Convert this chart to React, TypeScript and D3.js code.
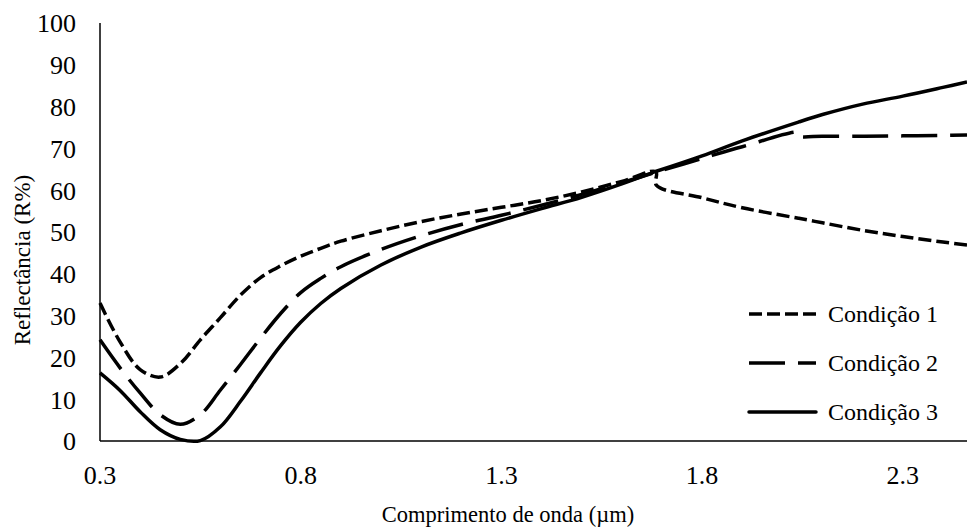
import React from 'react'
import * as d3 from 'd3'

// wavelength (µm) shared by all three curves; close pairs of points mark the jumps
const wavelength = [0.3, 0.35, 0.4, 0.45, 0.5, 0.55, 0.6, 0.65, 0.7, 0.75, 0.8, 0.85, 0.9, 1.0, 1.1, 1.2, 1.3, 1.4, 1.5, 1.6, 1.685, 1.686, 1.8, 1.9, 2.04, 2.041, 2.1, 2.2, 2.3, 2.4, 2.46]

const condicao1 = [33, 23.7, 17.1, 15.3, 18.5, 24.2, 29.5, 34.9, 39.1, 41.9, 44.2, 46.1, 47.8, 50.3, 52.5, 54.3, 55.9, 57.5, 59.6, 62.1, 64.4, 61.2, 58.2, 55.8, 53.3, 53.28, 52.2, 50.4, 48.9, 47.6, 46.9]
const condicao2 = [24.2, 17.5, 11.5, 6.3, 4.0, 6.3, 12.2, 18.3, 24.6, 30.5, 35.5, 38.9, 41.7, 45.8, 49.1, 51.8, 54, 56.4, 59, 61.8, 64.3, 64.33, 67.6, 70.4, 73.8, 73.0, 72.9, 72.9, 73, 73.1, 73.2]
const condicao3 = [16.3, 12.1, 7, 2.7, 0.4, 0.1, 3.4, 9.5, 16.3, 22.8, 28.4, 32.9, 36.5, 42.1, 46.4, 49.8, 52.8, 55.6, 58.3, 61.5, 64.5, 64.53, 68.2, 71.8, 76.3, 76.33, 78.1, 80.6, 82.5, 84.6, 85.9]

const seriesNames = ['Condição 1', 'Condição 2', 'Condição 3']
const xTicks = [0.3, 0.8, 1.3, 1.8, 2.3]
const yTicks = [0, 10, 20, 30, 40, 50, 60, 70, 80, 90, 100]

const W = 967
const H = 527
const FONT = '"Liberation Serif", "DejaVu Serif", "Times New Roman", serif'

const App = () => {
  const x = d3.scaleLinear().domain([0.3, 2.46]).range([100, 967])
  const y = d3.scaleLinear().domain([0, 100]).range([441, 23])

  const line = d3.line<[number, number]>()
    .x(d => x(d[0]))
    .y(d => y(d[1]))
    .curve(d3.curveCatmullRom.alpha(0.5))

  const allSeries = [condicao1, condicao2, condicao3]
  // dash styles: short dash, long dash, solid
  const dashes = ['13,5', '36,13', null]

  return (
    <svg width={W} height={H} style={{position: 'absolute', left: 0, top: 0, background: '#fff'}}>
      {/* axes */}
      <line x1={x(0.3)} x2={x(0.3)} y1={y(100)} y2={y(0)} stroke="#000" strokeWidth={1.5} />
      <line x1={x(0.3)} x2={W} y1={y(0)} y2={y(0)} stroke="#000" strokeWidth={1.5} />

      {yTicks.map(t => (
        <text key={'y' + t} x={76} y={y(t)} dy="0.36em" textAnchor="end"
          fontFamily={FONT} fontSize={26} fill="#000">{t}</text>
      ))}
      {xTicks.map(t => (
        <text key={'x' + t} x={x(t)} y={484} textAnchor="middle"
          fontFamily={FONT} fontSize={26} fill="#000">{t.toFixed(1)}</text>
      ))}

      <text x={508} y={522} textAnchor="middle" fontFamily={FONT} fontSize={22.5} fill="#000">
        Comprimento de onda (µm)
      </text>
      <text transform="translate(30, 260) rotate(-90)" textAnchor="middle"
        fontFamily={FONT} fontSize={23} fill="#000">
        Reflectância (R%)
      </text>

      {/* curves */}
      {allSeries.map((vals, i) => (
        <path key={'s' + i}
          d={line(wavelength.map((w, j) => [w, vals[j]] as [number, number])) || ''}
          fill="none" stroke="#000" strokeWidth={3.5}
          strokeDasharray={dashes[i] || undefined}
          strokeLinejoin="round" />
      ))}

      {/* legend */}
      {seriesNames.map((name, i) => {
        const ly = 314 + i * 49
        return (
          <g key={'l' + i}>
            <line x1={749} x2={816} y1={ly} y2={ly} stroke="#000" strokeWidth={3.5}
              strokeDasharray={dashes[i] || undefined}
              strokeLinecap={dashes[i] ? 'butt' : 'round'} />
            <text x={828} y={ly} dy="0.34em" fontFamily={FONT} fontSize={24} fill="#000">{name}</text>
          </g>
        )
      })}
    </svg>
  )
}

export default App
